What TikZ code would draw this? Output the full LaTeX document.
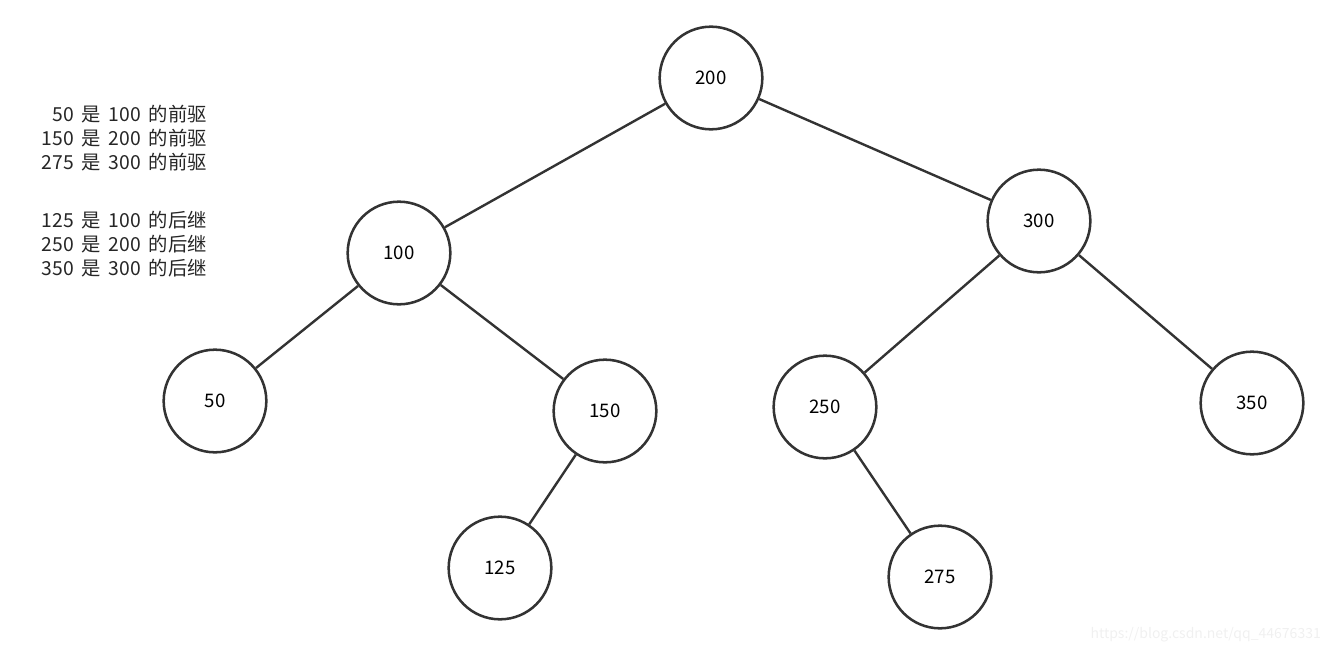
\documentclass[tikz,border=0pt]{standalone}
\usepackage{fontspec}
\setmainfont{Noto Sans CJK SC}
\usepackage{tikz}
\newcommand{\gp}{\hspace{0.4em}}

\begin{document}
\begin{tikzpicture}[x=0.75pt,y=-0.75pt,line width=1.8pt,
                      tree node/.style={circle,draw=black!80,line width=1.9pt,minimum size=77pt,inner sep=0pt,font=\fontsize{14}{16}\selectfont},
                      note/.style={align=right,anchor=north east,inner sep=0pt,font=\fontsize{14.5}{18}\selectfont,text=black!85}]

    \useasboundingbox (0,0) rectangle (1328,653);

    % Nodes
    \node[tree node] (n200) at (711,78) {200};
    \node[tree node] (n100) at (399,253) {100};
    \node[tree node] (n300) at (1039,221) {300};
    \node[tree node] (n50) at (215,401) {50};
    \node[tree node] (n150) at (605,411) {150};
    \node[tree node] (n250) at (825,407) {250};
    \node[tree node] (n350) at (1252,403) {350};
    \node[tree node] (n125) at (500,568) {125};
    \node[tree node] (n275) at (940,577) {275};

    % Notes
    \node[note] (pred) at (208,104) {50\gp 是\gp 100\gp 的前驱\\150\gp 是\gp 200\gp 的前驱\\275\gp 是\gp 300\gp 的前驱};
    \node[note] (succ) at (208,210) {125\gp 是\gp 100\gp 的后继\\250\gp 是\gp 200\gp 的后继\\350\gp 是\gp 300\gp 的后继};
    \node[anchor=east,inner sep=0pt,text=black!6,font=\fontsize{10.5}{12}\selectfont] (mark) at (1322,635) {https://blog.csdn.net/qq\_44676331};

    % Paths
    \path[draw=black!80]
      (n200) edge (n100)
      (n200) edge (n300)
      (n100) edge (n50)
      (n100) edge (n150)
      (n150) edge (n125)
      (n300) edge (n250)
      (n300) edge (n350)
      (n250) edge (n275);

  \end{tikzpicture}
\end{document}
